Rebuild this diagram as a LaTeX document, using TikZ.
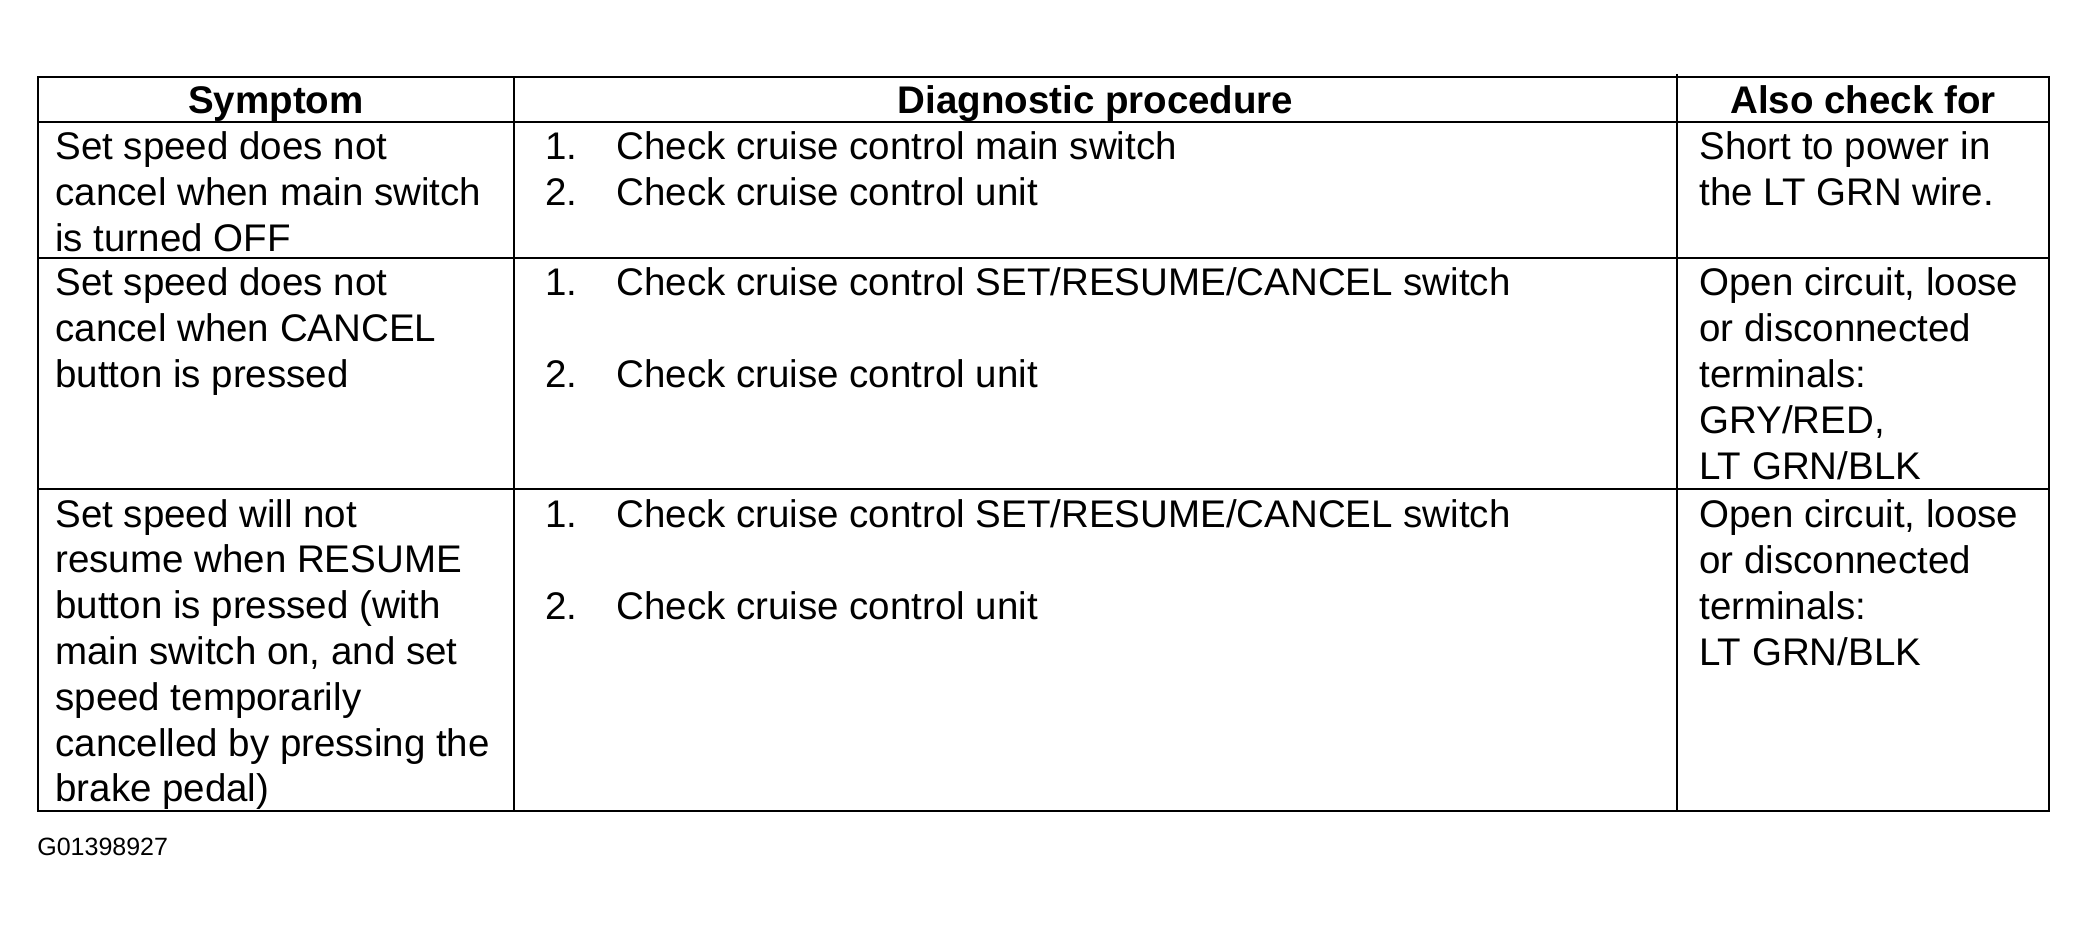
\documentclass[tikz,border=0pt]{standalone}
\usepackage{fontspec}
\setmainfont{Liberation Sans}
\begin{document}
\begin{tikzpicture}[x=0.5pt,y=-0.5pt,
  txt/.style={anchor=base west,inner sep=0pt,font=\fontsize{19.25pt}{23pt}\selectfont},
  head/.style={anchor=base,inner sep=0pt,font=\fontsize{19.25pt}{23pt}\selectfont\bfseries},
  outer/.style={line width=1.1pt},
  inner/.style={line width=0.8pt}]
\fill[white] (0,0) rectangle (2087,931);
\useasboundingbox (0,0) rectangle (2087,931);
% grid
\draw[inner] (38,122) -- (2049,122);
\draw[inner] (38,258) -- (2049,258);
\draw[inner] (38,489) -- (2049,489);
\draw[inner] (514,77) -- (514,811);
\draw[inner] (1677,74) -- (1677,811);
\draw[outer] (38,77) rectangle (2049,811);
% header
\node[head] (hsym) at (276,113) {Symptom};
\node[head] (hdiag) at (1095.5,113) {Diagnostic procedure};
\node[head] (halso) at (1863,113) {Also check for};
% row 1
\foreach \t [count=\k from 0] in {Set speed does not, cancel when main switch, is turned OFF}
  \node[txt] (aa\k) at (55,159+46*\k) {\t};
\node[txt] (ab1) at (545,159) {1.};
\node[txt] (ab1t) at (616,159) {Check cruise control main switch};
\node[txt] (ab2) at (545,205) {2.};
\node[txt] (ab2t) at (616,205) {Check cruise control unit};
\foreach \t [count=\k from 0] in {Short to power in, the LT GRN wire.}
  \node[txt] (ac\k) at (1699,159+46*\k) {\t};
% row 2
\foreach \t [count=\k from 0] in {Set speed does not, cancel when CANCEL, button is pressed}
  \node[txt] (ba\k) at (55,295+46*\k) {\t};
\node[txt] (bb1) at (545,295) {1.};
\node[txt] (bb1t) at (616,295) {Check cruise control SET/RESUME/CANCEL switch};
\node[txt] (bb2) at (545,387) {2.};
\node[txt] (bb2t) at (616,387) {Check cruise control unit};
\foreach \t [count=\k from 0] in {{Open circuit, loose}, or disconnected, terminals:, {GRY/RED,}, LT GRN/BLK}
  \node[txt] (bc\k) at (1699,295+46*\k) {\t};
% row 3
\foreach \t [count=\k from 0] in {Set speed will not, resume when RESUME, button is pressed (with, {main switch on, and set}, speed temporarily, cancelled by pressing the, brake pedal)}
  \node[txt] (ca\k) at (55,527+45.8*\k) {\t};
\node[txt] (cb1) at (545,527) {1.};
\node[txt] (cb1t) at (616,527) {Check cruise control SET/RESUME/CANCEL switch};
\node[txt] (cb2) at (545,619) {2.};
\node[txt] (cb2t) at (616,619) {Check cruise control unit};
\foreach \t [count=\k from 0] in {{Open circuit, loose}, or disconnected, terminals:, LT GRN/BLK}
  \node[txt] (cc\k) at (1699,527+46*\k) {\t};
% figure code
\node[anchor=base west,inner sep=0pt,font=\fontsize{12.5pt}{14pt}\selectfont] (gcode) at (37,855) {G01398927};
\end{tikzpicture}
\end{document}
